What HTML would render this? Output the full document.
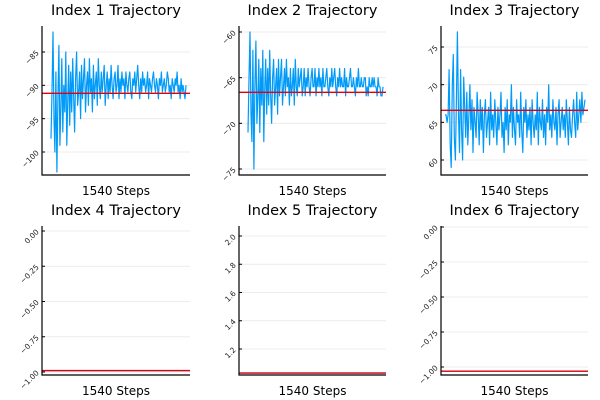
<!DOCTYPE html>
<html><head><meta charset="utf-8"><style>
body{margin:0;background:#fff;}
svg{display:block;font-family:"DejaVu Sans","Liberation Sans",sans-serif;}
</style></head><body>
<svg id="chart" width="600" height="400" viewBox="0 0 600 400"></svg>
<script>
const titles = ["Index 1 Trajectory","Index 2 Trajectory","Index 3 Trajectory","Index 4 Trajectory","Index 5 Trajectory","Index 6 Trajectory"];
const xLabel = "1540 Steps";
const series1 = [-98,-91,-82,-95,-100,-88,-103,-92,-84,-99,-93,-86,-97,-90,-94,-85,-99,-92,-87,-96,-88,-94,-86,-92,-97,-89,-85,-93,-91,-88,-95,-87,-92,-89,-86,-94,-90,-88,-93,-86,-91,-89,-94,-87,-92,-90,-88,-93,-86,-90,-92,-88,-91,-89,-87,-93,-90,-88,-92,-89,-91,-87,-90,-92,-89,-88,-91,-90,-87,-92,-89,-91,-88,-90,-89,-92,-88,-90,-91,-89,-88,-91,-92,-89,-90,-88,-91,-89,-87,-90,-92,-89,-91,-88,-90,-89,-91,-90,-88,-92,-89,-90,-91,-89,-88,-90,-91,-89,-90,-92,-89,-90,-88,-91,-90,-89,-91,-90,-88,-89,-91,-90,-92,-89,-90,-91,-89,-90,-88,-91,-90,-92,-89,-91,-90,-91,-92,-90];
const series2 = [-71,-65,-60,-69,-72,-62,-75,-66,-61,-70,-67,-63,-71,-64,-68,-62,-72,-66,-63,-69,-64,-68,-62,-67,-70,-65,-63,-68,-66,-64,-69,-63,-67,-65,-63,-68,-66,-64,-67,-63,-66,-65,-68,-64,-67,-66,-64,-68,-63,-66,-67,-64,-66,-65,-64,-67,-66,-64,-67,-65,-66,-64,-66,-67,-65,-64,-66,-66,-64,-67,-65,-66,-64,-66,-65,-67,-64,-66,-66,-65,-64,-66,-67,-65,-66,-64,-66,-65,-64,-66,-67,-65,-66,-64,-66,-65,-66,-66,-64,-67,-65,-66,-66,-65,-64,-66,-66,-65,-66,-67,-65,-66,-64,-66,-66,-65,-66,-66,-65,-65,-67,-66,-67,-65,-66,-66,-65,-66,-65,-66,-66,-67,-65,-66,-66,-67,-67,-66];
const series3 = [66,66,65,66,72,62,59,70,74,63,60,68,77,66,61,72,64,60,71,67,63,69,62,66,70,64,68,61,67,65,63,69,66,62,68,64,67,61,66,68,63,65,67,62,69,64,66,63,68,65,62,67,64,66,69,63,65,61,67,64,68,62,66,65,70,63,67,64,62,68,65,66,63,69,64,61,67,65,68,63,66,64,67,62,68,65,63,66,64,69,62,67,65,64,68,63,66,62,67,65,70,64,66,63,68,65,64,67,62,66,68,63,65,67,64,66,63,68,65,62,67,64,63,66,68,65,63,69,64,66,68,65,69,66,67,68];
const series4 = [-0.99,-0.99];
const series5 = [1.03,1.03];
const series6 = [-1.03,-1.03];
const means = [-91.2,-66.6,66.6,-0.99,1.03,-1.03];
const ticks = [[-85,-90,-95,-100],[-60,-65,-70,-75],[75,70,65,60],[0,-0.25,-0.5,-0.75,-1],[2,1.8,1.6,1.4,1.2],[0,-0.25,-0.5,-0.75,-1]];
const tickText = [["−85","−90","−95","−100"],["−60","−65","−70","−75"],["75","70","65","60"],["0.00","−0.25","−0.50","−0.75","−1.00"],["2.0","1.8","1.6","1.4","1.2"],["0.00","−0.25","−0.50","−0.75","−1.00"]];
const allSeries = [series1,series2,series3,series4,series5,series6];

const layout = [
 [42,190,26,175,-85,52,-100,152,51,186],
 [239,386,26,175,-60,32,-75,169,248,383],
 [441,588,26,175,75,47,60,160,445,585],
 [42,190,226,375,0,231,-1,372,43,190],
 [239,386,226,375,2,236,1.2,349,240,386],
 [441,588,226,375,0,227,-1,367,442,588]
];
const NS="http://www.w3.org/2000/svg";
const svg=document.getElementById('chart');
function mk(tag,attrs,parent){const e=document.createElementNS(NS,tag);for(const k in attrs)e.setAttribute(k,attrs[k]);(parent||svg).appendChild(e);return e;}
layout.forEach((L,i)=>{
  const [l,r,t,b,va,pa,vb,pb,dx0,dx1]=L;
  const y=v=>pa+(v-va)*(pb-pa)/(vb-va);
  const g=mk('g',{});
  
  
  ticks[i].forEach((tv,j)=>{
    const yy=y(tv);
    const gl=mk('line',{x1:l,x2:r,y1:yy,y2:yy,stroke:'#ececec','stroke-width':1},g);
    
    
    const tk=mk('line',{x1:l,x2:l+3,y1:yy,y2:yy,stroke:'#000','stroke-width':1},g);
    
    
    const tx=mk('text',{x:l-4,y:yy+2,'font-size':7.5,'text-anchor':'end',fill:'#222',transform:`rotate(-45 ${l-4} ${yy})`},g);
    tx.textContent=tickText[i][j];
    
    
  });
  const s=allSeries[i];
  const xs=k=>dx0+k*(dx1-dx0)/(s.length-1);
  const pts=s.map((v,k)=>xs(k).toFixed(1)+','+y(v).toFixed(1)).join(' ');
  const pl=mk('polyline',{points:pts,fill:'none',stroke:'#009af9','stroke-width':1.2,'stroke-linejoin':'round'},g);
  
  
  const my=y(means[i]);
  const ml=mk('line',{x1:l,x2:r,y1:my,y2:my,stroke:'#e3000b','stroke-width':1.4},g);
  
  
  const ax=mk('path',{d:`M${l},${t} L${l},${b} L${r},${b}`,fill:'none',stroke:'#000','stroke-width':1.2},g);
  
  
  const tt=mk('text',{x:(l+r)/2,y:t-11,'font-size':14.5,'text-anchor':'middle',fill:'#000'},g);
  tt.textContent=titles[i];
  
  
  const xl=mk('text',{x:(l+r)/2,y:b+20,'font-size':12,'text-anchor':'middle',fill:'#000'},g);
  xl.textContent=xLabel;
  
  
});
</script>
</body></html>
